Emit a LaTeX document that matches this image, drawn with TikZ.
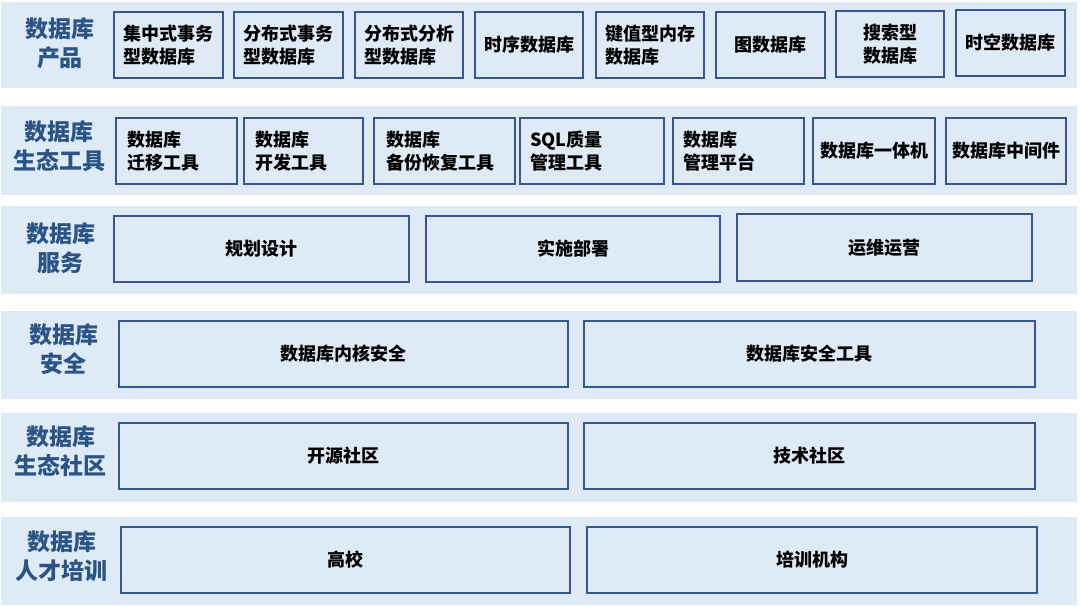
\documentclass[tikz,border=0pt]{standalone}
\usepackage{fontspec}
\setmainfont{Noto Sans CJK SC}
\definecolor{bandc}{RGB}{222,234,246}
\definecolor{bordc}{RGB}{52,86,145}
\definecolor{labc}{RGB}{42,84,134}
\newcommand\mybox[7][]{%
  \node[bx,minimum width={(#5-#3)*1pt},minimum height={(#6-#4)*1pt},#1] (#2)
    at ({(#3+#5)/2},{(#4+#6)/2}) {#7};}
\newcommand\myband[5]{%
  \node[band,minimum width={(#4-#2)*1pt},minimum height={(#5-#3)*1pt}] (#1)
    at ({(#2+#4)/2},{(#3+#5)/2}) {};}
\begin{document}
\begin{tikzpicture}[x=1pt,y=-1pt,
  band/.style={fill=bandc,draw=none,inner sep=0pt},
  bx/.style={draw=bordc,line width=1.3pt,inner sep=0pt,
    font=\fontsize{18}{22.5}\selectfont\bfseries,align=left,text=black},
  lab/.style={font=\fontsize{23}{29}\selectfont\bfseries,text=labc,align=center,inner sep=0pt}]
\useasboundingbox (0,0) rectangle (1080,607);
% bands
\myband{b1}{1}{2}{1077}{88}
\myband{b2}{1}{106}{1077}{195}
\myband{b3}{1}{206}{1077}{294}
\myband{b4}{1}{311}{1077}{399}
\myband{b5}{1}{413}{1077}{502}
\myband{b6}{1}{517}{1077}{605}
% labels
\node[lab] (l1) at (60,43) {数据库\\产品};
\node[lab] (l2) at (59,146) {数据库\\生态工具};
\node[lab] (l3) at (61,248) {数据库\\服务};
\node[lab] (l4) at (64,349) {数据库\\安全};
\node[lab] (l5) at (61,451) {数据库\\生态社区};
\node[lab] (l6) at (62,556) {数据库\\人才培训};
% row 1
\mybox{p1}{114}{12}{223}{78}{集中式事务\\型数据库}
\mybox{p2}{234}{12}{343}{78}{分布式事务\\型数据库}
\mybox{p3}{355}{12}{463}{78}{分布式分析\\型数据库}
\mybox{p4}{475}{12}{583}{78}{时序数据库}
\mybox{p5}{596}{12}{704}{78}{键值型内存\\数据库}
\mybox{p6}{716}{12}{825}{78}{图数据库}
\mybox{p7}{836}{11}{944}{77}{搜索型\\数据库}
\mybox{p8}{956}{10}{1065}{76}{时空数据库}
% row 2
\mybox[text width=99pt]{t1}{116}{118}{237}{184}{数据库\\迁移工具}
\mybox[text width=97pt]{t2}{244}{118}{363}{184}{数据库\\开发工具}
\mybox[text width=117pt]{t3}{374}{118}{515}{184}{数据库\\备份恢复工具}
\mybox[text width=124pt]{t4}{520}{118}{664}{184}{SQL质量\\管理工具}
\mybox[text width=111pt]{t5}{673}{118}{804}{184}{数据库\\管理平台}
\mybox{t6}{813}{118}{935}{184}{数据库一体机}
\mybox{t7}{946}{118}{1066}{184}{数据库中间件}
% row 3
\mybox{s1}{114}{216}{409}{282}{规划设计}
\mybox{s2}{426}{216}{720}{282}{实施部署}
\mybox{s3}{737}{214}{1032}{281}{运维运营}
% row 4
\mybox{a1}{119}{321}{568}{387}{数据库内核安全}
\mybox{a2}{584}{321}{1035}{387}{数据库安全工具}
% row 5
\mybox{c1}{119}{423}{568}{489}{开源社区}
\mybox{c2}{584}{423}{1035}{489}{技术社区}
% row 6
\mybox{e1}{121}{527}{570}{593}{高校}
\mybox{e2}{587}{527}{1037}{593}{培训机构}
\end{tikzpicture}
\end{document}
